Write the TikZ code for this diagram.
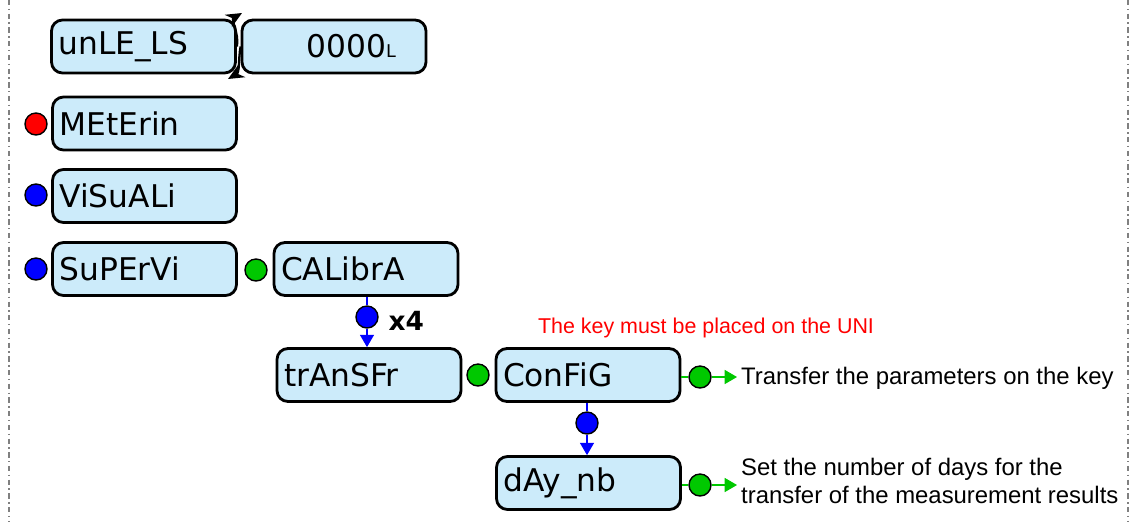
\documentclass[tikz,border=0pt]{standalone}
\usepackage{fontspec}
\setmainfont{Liberation Sans}
\newfontfamily\boxfont{DejaVu Sans}
\usetikzlibrary{positioning,arrows.meta}
\definecolor{boxfill}{RGB}{204,235,250}
\definecolor{keygreen}{RGB}{0,200,0}

\begin{document}
\begin{tikzpicture}[x=0.02cm, y=-0.02cm, thick,
    menu node/.style={draw,line width=1.6pt,rounded corners=0.22cm,fill=boxfill,
      minimum width=3.62cm,minimum height=1.06cm,text width=3.4cm,align=left,
      inner xsep=4pt,font=\boxfont\fontsize{17.8}{20}\selectfont},
    dot/.style={circle,draw,line width=0.8pt,minimum size=0.44cm,inner sep=0pt},
    blue dot/.style={dot,fill=blue},
    green dot/.style={dot,fill=keygreen},
    red dot/.style={dot,fill=red},
    down arrow/.style={blue,line width=0.6pt,-{Triangle[length=7pt,width=8pt]}},
    side arrow/.style={keygreen,line width=0.6pt,-{Triangle[length=7pt,width=8pt]}},
    note/.style={font=\fontsize{13.6}{16}\selectfont,align=left,inner sep=2pt}]

      \useasboundingbox (0,0) rectangle (1135,522);
      \draw[gray,dash dot,line width=0.6pt] (9,0) -- (9,522);
      \draw[gray,dash dot,line width=0.6pt] (1128,0) -- (1128,522);

      \node[menu node] (unle) at (143.5,46.5) {unLE\_LS};
      \node[menu node] (val) at (334,46.5) {\hspace*{1.15cm}0000{\fontsize{10}{12}\selectfont L}};
      \node[menu node] (meter) at (144.5,123.5) {MEtErin};
      \node[menu node] (visu) at (144.5,196) {ViSuALi};
      \node[menu node] (superv) at (144.5,269) {SuPErVi};
      \node[menu node] (calib) at (366,269) {CALibrA};
      \node[menu node] (transf) at (369,375) {trAnSFr};
      \node[menu node] (config) at (588,375) {ConFiG};
      \node[menu node] (daynb) at (588.5,483) {dAy\_nb};

      \node[red dot] (d1) at (36,124) {};
      \node[blue dot] (d2) at (36,195) {};
      \node[blue dot] (d3) at (36,269) {};
      \node[green dot] (d4) at (256,270) {};
      \node[blue dot] (d5) at (367,317) {};
      \node[green dot] (d6) at (478,375) {};
      \node[blue dot] (d7) at (587,423) {};
      \node[green dot] (d8) at (700,377) {};
      \node[green dot] (d9) at (700,485) {};

      \node[font=\boxfont\bfseries\fontsize{15}{18}\selectfont,anchor=west] (times) at (382,321) {x4};
      \node[note,red,font=\fontsize{12.2}{15}\selectfont] (keynote) at (706,328) {The key must be placed on the UNI};
      \node[note,anchor=west] (t1) at (737,378) {Transfer the parameters on the key};
      \node[note,anchor=west] (t2) at (737,481) {Set the number of days for the\\transfer of the measurement results};

      \coordinate (tgtop) at (242,13);
      \coordinate (tgbot) at (228,79);
      \draw[line width=1.3pt,-{Stealth[length=9pt,width=8pt]}] (unle.east) to[out=80,in=210] (tgtop);
      \draw[line width=1.3pt,-{Stealth[length=9pt,width=8pt]}] (val.west) to[out=-100,in=30] (tgbot);

      \draw[blue,line width=0.6pt] (calib.south -| d5) -- (d5);
      \draw[down arrow] (d5) -- (transf.north -| d5);
      \draw[blue,line width=0.6pt] (config.south -| d7) -- (d7);
      \draw[down arrow] (d7) -- (daynb.north -| d7);
      \draw[keygreen,line width=0.6pt] (config.east |- d8) -- (d8);
      \draw[side arrow] (d8) -- (t1.west |- d8);
      \draw[keygreen,line width=0.6pt] (daynb.east |- d9) -- (d9);
      \draw[side arrow] (d9) -- (t2.west |- d9);

\end{tikzpicture}
\end{document}
